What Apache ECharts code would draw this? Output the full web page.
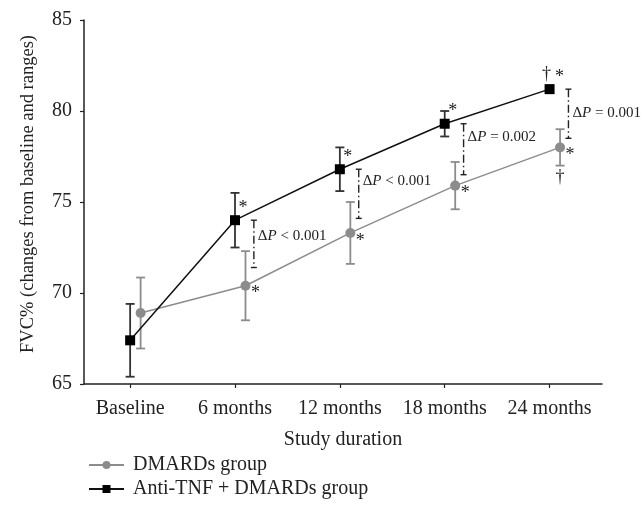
<!DOCTYPE html>
<html>
<head>
<meta charset="utf-8">
<script src="https://cdn.jsdelivr.net/npm/echarts@6.0.0/dist/echarts.min.js"></script>
<style>
html,body{margin:0;padding:0;background:#fff;}
#chart{width:644px;height:519px;}
</style>
</head>
<body>
<div id="chart"></div>
<script>
// ---- data ----
const categories = ['Baseline', '6 months', '12 months', '18 months', '24 months'];
const dmardsMean = [68.9, 70.4, 73.3, 75.9, 78.0];
const dmardsRange = [1.95, 1.9, 1.7, 1.3, 1.0];
const antiMean = [67.4, 74.0, 76.8, 79.3, 81.2];
const antiRange = [2.0, 1.5, 1.2, 0.7, 0.2];
const antiStar = [0, 1, 1, 1, 1];
const antiDagger = [0, 0, 0, 0, 1];
const dmardsStar = [0, 1, 1, 1, 1];
const dmardsDagger = [0, 0, 0, 0, 1];
const deltaPText = ['', '< 0.001', '< 0.001', '= 0.002', '= 0.001'];
const bracketLow = [null, 71.4, 74.1, 76.5, 78.5];
const yTicks = [65, 70, 75, 80, 85];

// ---- styles ----
const FONT = '"Liberation Serif", "DejaVu Serif", serif';
const GREY = '#8c8c8c';
const BLACK = '#111';
const greyShift = 0.1;      // horizontal offset of grey group (category units)
const bracketShift = 0.18;  // horizontal offset of ΔP brackets
const pLabelDy = [0, 16, 12, 13, 24];

const chart = echarts.init(document.getElementById('chart'), null, {renderer: 'canvas'});

function errorBarSeries(name, means, ranges, shift, color) {
  return {
    type: 'custom',
    name: name + '_err',
    coordinateSystem: 'cartesian2d',
    z: 2,
    silent: true,
    data: means.map((m, i) => [i + shift, m, ranges[i]]),
    encode: {x: 0, y: 1},
    renderItem: function (params, api) {
      const x = api.value(0), m = api.value(1), e = api.value(2);
      const top = api.coord([x, m + e]);
      const bot = api.coord([x, m - e]);
      const w = 4.5;
      const st = {stroke: color, lineWidth: 1.8, fill: null};
      return {
        type: 'group',
        children: [
          {type: 'line', shape: {x1: top[0], y1: top[1], x2: bot[0], y2: bot[1]}, style: st},
          {type: 'line', shape: {x1: top[0] - w, y1: top[1], x2: top[0] + w, y2: top[1]}, style: st},
          {type: 'line', shape: {x1: bot[0] - w, y1: bot[1], x2: bot[0] + w, y2: bot[1]}, style: st}
        ]
      };
    }
  };
}

// annotation list (symbols near markers)
const notes = [];
categories.forEach((c, i) => {
  if (antiStar[i]) notes.push({x: i, y: antiMean[i], t: '*', dx: antiDagger[i] ? 10 : 8, dy: -12});
  if (antiDagger[i]) notes.push({x: i, y: antiMean[i], t: '†', dx: -3, dy: -15});
  if (dmardsStar[i]) notes.push({x: i + greyShift, y: dmardsMean[i], t: '*', dx: 10, dy: 8});
  if (dmardsDagger[i]) notes.push({x: i + greyShift, y: dmardsMean[i], t: '†', dx: 0, dy: 30});
});

const bracketData = [];
categories.forEach((c, i) => {
  if (bracketLow[i] != null) bracketData.push([i + bracketShift, antiMean[i], bracketLow[i], i]);
});

const legendCommon = {
  orient: 'vertical',
  left: 83,
  itemWidth: 35,
  itemHeight: 10,
  textStyle: {fontFamily: FONT, fontSize: 20, color: '#222', padding: [0, 0, 0, 4]}
};

const option = {
  animation: false,
  backgroundColor: '#fff',
  grid: {left: 84, right: 42, top: 20, bottom: 135},
  xAxis: {
    type: 'value',
    min: -0.44,
    max: 4.5,
    axisLine: {show: true, onZero: false, lineStyle: {color: '#222', width: 1.5}},
    axisTick: {show: true, customValues: [0, 1, 2, 3, 4], length: 4, lineStyle: {color: '#222', width: 1.2}},
    axisLabel: {
      customValues: [0, 1, 2, 3, 4],
      formatter: v => categories[Math.round(v)],
      fontFamily: FONT, fontSize: 20, color: '#222', margin: 15
    },
    splitLine: {show: false},
    name: 'Study duration',
    nameLocation: 'middle',
    nameGap: 46,
    nameTextStyle: {fontFamily: FONT, fontSize: 20, color: '#222'}
  },
  yAxis: {
    type: 'value',
    min: 65,
    max: 85,
    interval: 5,
    axisLine: {show: true, onZero: false, lineStyle: {color: '#222', width: 1.5}},
    axisTick: {show: true, length: 4, lineStyle: {color: '#222', width: 1.2}},
    axisLabel: {fontFamily: FONT, fontSize: 20, color: '#222', margin: 12,
      formatter: v => (yTicks.indexOf(v) >= 0 ? String(v) : '')},
    splitLine: {show: false},
    name: 'FVC% (changes from baseline and ranges)',
    nameLocation: 'middle',
    nameGap: 46,
    nameTextStyle: {fontFamily: FONT, fontSize: 18.5, color: '#222', padding: [0, 0, 0, 16]}
  },
  legend: [
    Object.assign({}, legendCommon, {top: 450, data: ['DMARDs group']}),
    Object.assign({}, legendCommon, {top: 474, data: ['Anti-TNF + DMARDs group']})
  ],
  series: [
    errorBarSeries('DMARDs group', dmardsMean, dmardsRange, greyShift, GREY),
    errorBarSeries('Anti-TNF + DMARDs group', antiMean, antiRange, 0, '#333'),
    {
      type: 'line',
      name: 'DMARDs group',
      z: 3,
      data: dmardsMean.map((m, i) => [i + greyShift, m]),
      symbol: 'circle',
      symbolSize: 10,
      lineStyle: {color: GREY, width: 1.5},
      itemStyle: {color: GREY}
    },
    {
      type: 'line',
      name: 'Anti-TNF + DMARDs group',
      z: 4,
      data: antiMean.map((m, i) => [i, m]),
      symbol: 'rect',
      symbolSize: 10,
      lineStyle: {color: BLACK, width: 1.5},
      itemStyle: {color: '#000'}
    },
    {
      type: 'custom',
      name: 'brackets',
      coordinateSystem: 'cartesian2d',
      z: 5,
      silent: true,
      data: bracketData,
      encode: {x: 0, y: 1},
      renderItem: function (params, api) {
        const x = api.value(0), hi = api.value(1), lo = api.value(2), idx = api.value(3);
        const top = api.coord([x, hi]);
        const bot = api.coord([x, lo]);
        const st = {stroke: '#222', lineWidth: 1.4, fill: null};
        return {
          type: 'group',
          children: [
            {type: 'line', shape: {x1: top[0], y1: top[1], x2: bot[0], y2: bot[1]},
             style: {stroke: '#222', lineWidth: 1.4, lineDash: [8, 3, 1.5, 3]}},
            {type: 'line', shape: {x1: top[0] - 3, y1: top[1], x2: top[0] + 3, y2: top[1]}, style: st},
            {type: 'line', shape: {x1: bot[0] - 3, y1: bot[1], x2: bot[0] + 3, y2: bot[1]}, style: st},
            {type: 'text', x: top[0] + 4, y: top[1] + pLabelDy[idx],
             style: {
               text: '{d|Δ}{p|P}{d| ' + deltaPText[idx] + '}',
               verticalAlign: 'middle', align: 'left',
               rich: {
                 d: {fontFamily: FONT, fontSize: 15, fill: '#222'},
                 p: {fontFamily: FONT, fontSize: 15, fontStyle: 'italic', fill: '#222'}
               }
             }}
          ]
        };
      }
    },
    {
      type: 'custom',
      name: 'notes',
      coordinateSystem: 'cartesian2d',
      z: 6,
      silent: true,
      data: notes.map(n => [n.x, n.y]),
      encode: {x: 0, y: 1},
      renderItem: function (params, api) {
        const n = notes[params.dataIndex];
        const p = api.coord([api.value(0), api.value(1)]);
        return {
          type: 'text',
          x: p[0] + n.dx, y: p[1] + n.dy,
          style: {text: n.t, fontFamily: FONT, fontSize: 18, fill: '#222',
                  align: 'center', verticalAlign: 'middle'}
        };
      }
    }
  ]
};
chart.setOption(option);
</script>
</body>
</html>
